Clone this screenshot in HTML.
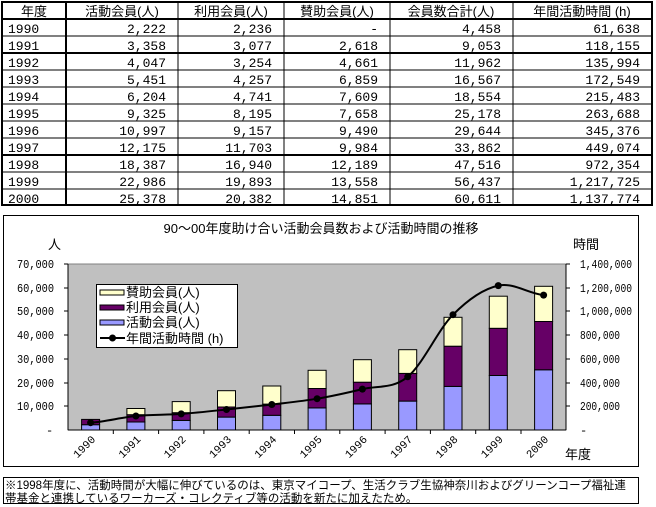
<!DOCTYPE html>
<html><head><meta charset="utf-8"><style>
body{margin:0;background:#fff;}
svg{display:block;font-family:"Liberation Sans","Noto Sans CJK JP",sans-serif;}
</style></head><body>
<svg width="656" height="507" viewBox="0 0 656 507" xmlns="http://www.w3.org/2000/svg">
<!-- Table -->
<g stroke="#000" fill="none">
<rect x="2" y="2" width="650" height="203" stroke-width="2"/>
<line x1="2" y1="19" x2="652" y2="19" stroke-width="2"/>
<line x1="2" y1="36" x2="652" y2="36"/>
<line x1="2" y1="53" x2="652" y2="53" stroke-width="2"/>
<line x1="2" y1="70" x2="652" y2="70"/>
<line x1="2" y1="87" x2="652" y2="87"/>
<line x1="2" y1="104" x2="652" y2="104"/>
<line x1="2" y1="121" x2="652" y2="121"/>
<line x1="2" y1="138" x2="652" y2="138"/>
<line x1="2" y1="155" x2="652" y2="155" stroke-width="2"/>
<line x1="2" y1="172" x2="652" y2="172"/>
<line x1="2" y1="189" x2="652" y2="189"/>
<line x1="66" y1="2" x2="66" y2="205" stroke-width="2"/>
<line x1="178" y1="2" x2="178" y2="205"/>
<line x1="284" y1="2" x2="284" y2="205"/>
<line x1="390" y1="2" x2="390" y2="205"/>
<line x1="513" y1="2" x2="513" y2="205"/>
</g>
<g font-size="13" fill="#000">
<text x="34" y="16" text-anchor="middle">年度</text>
<text x="122" y="16" text-anchor="middle">活動会員(人)</text>
<text x="231" y="16" text-anchor="middle">利用会員(人)</text>
<text x="337" y="16" text-anchor="middle">賛助会員(人)</text>
<text x="451" y="16" text-anchor="middle">会員数合計(人)</text>
<text x="582" y="16" text-anchor="middle">年間活動時間 (h)</text>
</g>
<g font-size="13" font-family="Liberation Mono, monospace">
<g text-anchor="start"><text x="8" y="33">1990</text><text x="8" y="50">1991</text><text x="8" y="67">1992</text><text x="8" y="84">1993</text><text x="8" y="101">1994</text><text x="8" y="118">1995</text><text x="8" y="135">1996</text><text x="8" y="152">1997</text><text x="8" y="169">1998</text><text x="8" y="186">1999</text><text x="8" y="203">2000</text></g>
<g text-anchor="end"><text x="166" y="33">2,222</text><text x="166" y="50">3,358</text><text x="166" y="67">4,047</text><text x="166" y="84">5,451</text><text x="166" y="101">6,204</text><text x="166" y="118">9,325</text><text x="166" y="135">10,997</text><text x="166" y="152">12,175</text><text x="166" y="169">18,387</text><text x="166" y="186">22,986</text><text x="166" y="203">25,378</text></g>
<g text-anchor="end"><text x="272" y="33">2,236</text><text x="272" y="50">3,077</text><text x="272" y="67">3,254</text><text x="272" y="84">4,257</text><text x="272" y="101">4,741</text><text x="272" y="118">8,195</text><text x="272" y="135">9,157</text><text x="272" y="152">11,703</text><text x="272" y="169">16,940</text><text x="272" y="186">19,893</text><text x="272" y="203">20,382</text></g>
<g text-anchor="end"><text x="378" y="33">-</text><text x="378" y="50">2,618</text><text x="378" y="67">4,661</text><text x="378" y="84">6,859</text><text x="378" y="101">7,609</text><text x="378" y="118">7,658</text><text x="378" y="135">9,490</text><text x="378" y="152">9,984</text><text x="378" y="169">12,189</text><text x="378" y="186">13,558</text><text x="378" y="203">14,851</text></g>
<g text-anchor="end"><text x="501" y="33">4,458</text><text x="501" y="50">9,053</text><text x="501" y="67">11,962</text><text x="501" y="84">16,567</text><text x="501" y="101">18,554</text><text x="501" y="118">25,178</text><text x="501" y="135">29,644</text><text x="501" y="152">33,862</text><text x="501" y="169">47,516</text><text x="501" y="186">56,437</text><text x="501" y="203">60,611</text></g>
<g text-anchor="end"><text x="640" y="33">61,638</text><text x="640" y="50">118,155</text><text x="640" y="67">135,994</text><text x="640" y="84">172,549</text><text x="640" y="101">215,483</text><text x="640" y="118">263,688</text><text x="640" y="135">345,376</text><text x="640" y="152">449,074</text><text x="640" y="169">972,354</text><text x="640" y="186">1,217,725</text><text x="640" y="203">1,137,774</text></g>
</g>

<!-- Chart frame -->
<rect x="3.5" y="215.5" width="635" height="251" fill="#fff" stroke="#000"/>
<text x="321" y="233" font-size="13" text-anchor="middle">90～00年度助け合い活動会員数および活動時間の推移</text>
<text x="48" y="249" font-size="13">人</text>
<text x="573" y="249" font-size="13">時間</text>
<rect x="68" y="264" width="498" height="166" fill="#c0c0c0" stroke="#808080"/>
<!-- left axis labels -->
<g font-size="12" font-family="Liberation Mono, monospace">
<text x="17" y="268" textLength="37" lengthAdjust="spacingAndGlyphs">70,000</text><text x="17" y="292" textLength="37" lengthAdjust="spacingAndGlyphs">60,000</text><text x="17" y="315" textLength="37" lengthAdjust="spacingAndGlyphs">50,000</text><text x="17" y="339" textLength="37" lengthAdjust="spacingAndGlyphs">40,000</text><text x="17" y="363" textLength="37" lengthAdjust="spacingAndGlyphs">30,000</text><text x="17" y="387" textLength="37" lengthAdjust="spacingAndGlyphs">20,000</text><text x="17" y="410" textLength="37" lengthAdjust="spacingAndGlyphs">10,000</text><text x="46" y="434">-</text>
</g>
<g font-size="12" font-family="Liberation Mono, monospace">
<text x="580" y="268" textLength="52" lengthAdjust="spacingAndGlyphs">1,400,000</text><text x="580" y="292" textLength="52" lengthAdjust="spacingAndGlyphs">1,200,000</text><text x="580" y="315" textLength="52" lengthAdjust="spacingAndGlyphs">1,000,000</text><text x="580" y="339" textLength="40" lengthAdjust="spacingAndGlyphs">800,000</text><text x="580" y="363" textLength="40" lengthAdjust="spacingAndGlyphs">600,000</text><text x="580" y="387" textLength="40" lengthAdjust="spacingAndGlyphs">400,000</text><text x="580" y="410" textLength="40" lengthAdjust="spacingAndGlyphs">200,000</text><text x="580" y="434">-</text>
</g>
<g stroke="#000">
<line x1="68" y1="264" x2="68" y2="430"/><line x1="566" y1="264" x2="566" y2="430"/>
<line x1="68" y1="430" x2="566" y2="430"/>
<line x1="64" y1="264" x2="68" y2="264"/><line x1="64" y1="288" x2="68" y2="288"/><line x1="64" y1="311" x2="68" y2="311"/><line x1="64" y1="335" x2="68" y2="335"/><line x1="64" y1="359" x2="68" y2="359"/><line x1="64" y1="383" x2="68" y2="383"/><line x1="64" y1="406" x2="68" y2="406"/>
<line x1="566" y1="264" x2="570" y2="264"/><line x1="566" y1="288" x2="570" y2="288"/><line x1="566" y1="311" x2="570" y2="311"/><line x1="566" y1="335" x2="570" y2="335"/><line x1="566" y1="359" x2="570" y2="359"/><line x1="566" y1="383" x2="570" y2="383"/><line x1="566" y1="406" x2="570" y2="406"/>
<line x1="113.3" y1="430" x2="113.3" y2="434"/><line x1="158.6" y1="430" x2="158.6" y2="434"/><line x1="203.9" y1="430" x2="203.9" y2="434"/><line x1="249.2" y1="430" x2="249.2" y2="434"/><line x1="294.5" y1="430" x2="294.5" y2="434"/><line x1="339.8" y1="430" x2="339.8" y2="434"/><line x1="385.1" y1="430" x2="385.1" y2="434"/><line x1="430.4" y1="430" x2="430.4" y2="434"/><line x1="475.7" y1="430" x2="475.7" y2="434"/><line x1="521" y1="430" x2="521" y2="434"/>
</g>
<!-- bars -->
<g stroke="#000" stroke-width="1">
<rect x="81.6" y="424.7" width="18" height="5.3" fill="#9999ff"/><rect x="81.6" y="419.4" width="18" height="5.3" fill="#660066"/>
<rect x="126.9" y="422" width="18" height="8" fill="#9999ff"/><rect x="126.9" y="414.7" width="18" height="7.3" fill="#660066"/><rect x="126.9" y="408.5" width="18" height="6.2" fill="#ffffcc"/>
<rect x="172.2" y="420.4" width="18" height="9.6" fill="#9999ff"/><rect x="172.2" y="412.7" width="18" height="7.7" fill="#660066"/><rect x="172.2" y="401.6" width="18" height="11.1" fill="#ffffcc"/>
<rect x="217.5" y="417.1" width="18" height="12.9" fill="#9999ff"/><rect x="217.5" y="407" width="18" height="10.1" fill="#660066"/><rect x="217.5" y="390.7" width="18" height="16.3" fill="#ffffcc"/>
<rect x="262.8" y="415.3" width="18" height="14.7" fill="#9999ff"/><rect x="262.8" y="404.1" width="18" height="11.2" fill="#660066"/><rect x="262.8" y="386" width="18" height="18.1" fill="#ffffcc"/>
<rect x="308.1" y="407.9" width="18" height="22.1" fill="#9999ff"/><rect x="308.1" y="388.5" width="18" height="19.4" fill="#660066"/><rect x="308.1" y="370.3" width="18" height="18.2" fill="#ffffcc"/>
<rect x="353.4" y="403.9" width="18" height="26.1" fill="#9999ff"/><rect x="353.4" y="382.2" width="18" height="21.7" fill="#660066"/><rect x="353.4" y="359.7" width="18" height="22.5" fill="#ffffcc"/>
<rect x="398.7" y="401.1" width="18" height="28.9" fill="#9999ff"/><rect x="398.7" y="373.4" width="18" height="27.7" fill="#660066"/><rect x="398.7" y="349.7" width="18" height="23.7" fill="#ffffcc"/>
<rect x="444" y="386.4" width="18" height="43.6" fill="#9999ff"/><rect x="444" y="346.2" width="18" height="40.2" fill="#660066"/><rect x="444" y="317.3" width="18" height="28.9" fill="#ffffcc"/>
<rect x="489.3" y="375.5" width="18" height="54.5" fill="#9999ff"/><rect x="489.3" y="328.3" width="18" height="47.2" fill="#660066"/><rect x="489.3" y="296.2" width="18" height="32.1" fill="#ffffcc"/>
<rect x="534.6" y="369.8" width="18" height="60.2" fill="#9999ff"/><rect x="534.6" y="321.5" width="18" height="48.3" fill="#660066"/><rect x="534.6" y="286.3" width="18" height="35.2" fill="#ffffcc"/>
</g>
<!-- line -->
<path d="M90.6,422.7 C105.7,421.6 120.8,417.5 135.9,416 C151,414.5 166.1,415 181.2,413.9 C196.3,412.8 211.4,411.1 226.5,409.5 C241.6,407.9 256.7,406.3 271.8,404.5 C286.9,402.7 302,401.3 317.1,398.7 C332.2,396.1 347.3,392.75 362.4,389.1 C377.5,385.45 392.6,389.2 407.7,376.8 C422.8,364.4 437.9,329.9 453,314.7 C468.1,299.5 483.2,288.9 498.3,285.6 C513.4,282.3 528.5,293.5 543.6,295.1" fill="none" stroke="#000" stroke-width="2"/>
<g fill="#000">
<circle cx="90.6" cy="422.7" r="3.5"/><circle cx="135.9" cy="416" r="3.5"/><circle cx="181.2" cy="413.9" r="3.5"/><circle cx="226.5" cy="409.5" r="3.5"/><circle cx="271.8" cy="404.5" r="3.5"/><circle cx="317.1" cy="398.7" r="3.5"/><circle cx="362.4" cy="389.1" r="3.5"/><circle cx="407.7" cy="376.8" r="3.5"/><circle cx="453" cy="314.7" r="3.5"/><circle cx="498.3" cy="285.6" r="3.5"/><circle cx="543.6" cy="295.1" r="3.5"/>
</g>
<!-- legend -->
<rect x="96.5" y="284.5" width="141" height="63" fill="#fff" stroke="#000"/>
<rect x="100" y="290" width="24" height="5" fill="#ffffcc" stroke="#000"/>
<rect x="100" y="305" width="24" height="5" fill="#660066" stroke="#000"/>
<rect x="100" y="320" width="24" height="5" fill="#9999ff" stroke="#000"/>
<line x1="100" y1="338" x2="125" y2="338" stroke="#000" stroke-width="2"/><circle cx="112.5" cy="338" r="3.5"/>
<g font-size="13"><text x="126" y="297">賛助会員(人)</text><text x="126" y="312">利用会員(人)</text><text x="126" y="327">活動会員(人)</text><text x="126" y="343">年間活動時間 (h)</text></g>
<!-- x labels -->
<g font-size="11" font-family="Liberation Mono, monospace" text-anchor="end">
<text transform="translate(96,440) rotate(-45)">1990</text>
<text transform="translate(141.3,440) rotate(-45)">1991</text>
<text transform="translate(186.6,440) rotate(-45)">1992</text>
<text transform="translate(231.9,440) rotate(-45)">1993</text>
<text transform="translate(277.2,440) rotate(-45)">1994</text>
<text transform="translate(322.5,440) rotate(-45)">1995</text>
<text transform="translate(367.8,440) rotate(-45)">1996</text>
<text transform="translate(413.1,440) rotate(-45)">1997</text>
<text transform="translate(458.4,440) rotate(-45)">1998</text>
<text transform="translate(503.7,440) rotate(-45)">1999</text>
<text transform="translate(549,440) rotate(-45)">2000</text>
</g>
<text x="565" y="459" font-size="13">年度</text>
<!-- footnote -->
<rect x="3.5" y="477.5" width="635" height="26" fill="#fff" stroke="#000"/>
<g font-size="11.5"><text x="5" y="489">※1998年度に、活動時間が大幅に伸びているのは、東京マイコープ、生活クラブ生協神奈川およびグリーンコープ福祉連</text>
<text x="5" y="502">帯基金と連携しているワーカーズ・コレクティブ等の活動を新たに加えたため。</text></g>
</svg>
</body></html>
